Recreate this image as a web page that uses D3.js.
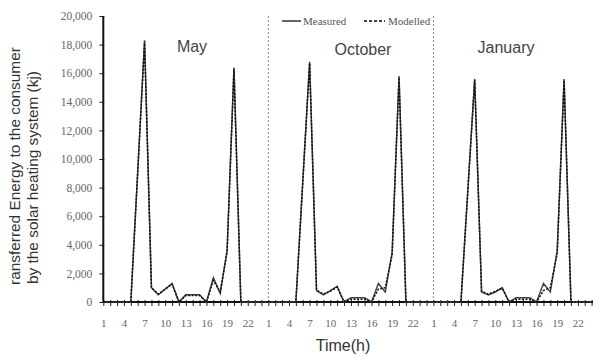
<!DOCTYPE html>
<html>
<head>
	<title>Transferred Energy</title>
	<script src="https://d3js.org/d3.v7.min.js"></script>
	<style>
		body { margin: 0; background: #fff; }
		.tick text { font-family: "Liberation Serif", serif; fill: #666; }
	</style>
</head>
<body>
	<div id="chart"></div>

	<script type="text/javascript">
		// hours of each day, labels every 3rd hour
		var hours = d3.range(1, 25);
		var months = ["May", "October", "January"];

		// measured energy (kj), hours 1..24
		var mayMeasured = [0,0,0,0,0,9100,18300,1000,500,900,1300,0,500,500,500,0,1700,600,3600,16400,0,0,0,0];
		var octMeasured = [0,0,0,0,0,8400,16800,800,500,800,1100,0,300,300,300,0,1300,700,3500,15800,0,0,0,0];
		var janMeasured = [0,0,0,0,0,7800,15600,700,500,700,1000,0,300,300,300,0,1300,700,3600,15600,0,0,0,0];

		// modelled energy (kj)
		var mayModelled = [0,0,0,0,0,9000,18200,1000,550,900,1250,0,450,450,450,0,1500,700,3500,16300,0,0,0,0];
		var octModelled = [0,0,0,0,0,8300,16700,850,550,750,1050,0,200,200,200,0,900,1000,3300,15700,0,0,0,0];
		var janModelled = [0,0,0,0,0,7700,15500,750,550,750,950,0,200,200,200,0,800,1000,3400,15500,0,0,0,0];

		var yTicks = d3.range(0, 20001, 2000);

		var measured = mayMeasured.concat(octMeasured, janMeasured);
		var modelled = mayModelled.concat(octModelled, janModelled);
		var hourLabels = hours.concat(hours, hours);

		var width = 593, height = 356;

		var svg = d3.select("#chart").append("svg")
			.attr("width", width)
			.attr("height", height)
			.style("font-family", "Arial, 'Liberation Sans', sans-serif");

		var x = d3.scaleLinear().domain([0, 71]).range([103.3, 591.6]);
		var y = d3.scaleLinear().domain([0, 20000]).range([302, 16]);

		// day separators
		[24, 48].forEach(function(i){
			svg.append("line")
				.attr("x1", x(i)).attr("x2", x(i))
				.attr("y1", y(20000)).attr("y2", y(0))
				.attr("stroke", "#888")
				.attr("stroke-width", 1)
				.attr("stroke-dasharray", "2,2");
		});

		// x axis
		var xAxis = svg.append("g")
			.attr("transform", "translate(0," + y(0) + ")")
			.call(d3.axisBottom(x)
				.tickValues(d3.range(0, 73))
				.tickSize(4)
				.tickPadding(13)
				.tickFormat(function(i){ return (i % 3 == 0 && i < 72) ? hourLabels[i] : ""; }));
		xAxis.select(".domain").remove();
		xAxis.selectAll(".tick line").attr("y1", -2).attr("y2", 4).attr("stroke", "#222");
		xAxis.selectAll(".tick text").style("font-size", "11px");
		svg.append("line")
			.attr("x1", x(0)).attr("x2", width)
			.attr("y1", y(0)).attr("y2", y(0))
			.attr("stroke", "#111").attr("stroke-width", 2);

		// y axis
		var yAxis = svg.append("g")
			.attr("transform", "translate(" + x(0) + ",0)")
			.call(d3.axisLeft(y)
				.tickValues(yTicks)
				.tickSize(4)
				.tickPadding(7)
				.tickFormat(d3.format(",")));
		yAxis.select(".domain").remove();
		yAxis.selectAll(".tick line").attr("x1", -4).attr("x2", 1).attr("stroke", "#222");
		yAxis.selectAll(".tick text").style("font-size", "11.5px");
		svg.append("line")
			.attr("x1", x(0)).attr("x2", x(0))
			.attr("y1", y(20000)).attr("y2", y(0))
			.attr("stroke", "#111").attr("stroke-width", 2);

		// lines
		var line = d3.line()
			.x(function(d, i){ return x(i); })
			.y(function(d){ return y(d); });

		svg.append("path")
			.datum(measured)
			.attr("d", line)
			.attr("fill", "none")
			.attr("stroke", "#444")
			.attr("stroke-width", 1.5);

		svg.append("path")
			.datum(modelled)
			.attr("d", line)
			.attr("fill", "none")
			.attr("stroke", "#111")
			.attr("stroke-width", 1.5)
			.attr("stroke-dasharray", "2,1.5");

		// month labels
		var monthX = [192, 363, 506];
		var monthY = [52, 55, 53];
		months.forEach(function(m, i){
			svg.append("text")
				.attr("x", monthX[i])
				.attr("y", monthY[i])
				.attr("text-anchor", "middle")
				.style("font-size", "16px")
				.style("fill", "#444")
				.text(m);
		});

		// legend
		var legend = svg.append("g").style("font-family", "'Liberation Serif', serif").style("font-size", "11px");
		legend.append("line").attr("x1", 282).attr("x2", 301).attr("y1", 21).attr("y2", 21)
			.attr("stroke", "#666").attr("stroke-width", 2);
		legend.append("text").attr("x", 303).attr("y", 25).style("fill", "#555").text("Measured");
		legend.append("line").attr("x1", 364).attr("x2", 385).attr("y1", 21).attr("y2", 21)
			.attr("stroke", "#444").attr("stroke-width", 2).attr("stroke-dasharray", "3,2");
		legend.append("text").attr("x", 388).attr("y", 25).style("fill", "#555").text("Modelled");

		// axis titles
		var yTitle = svg.append("text")
			.attr("transform", "rotate(-90)")
			.attr("text-anchor", "start")
			.style("font-size", "15.4px")
			.style("fill", "#333");
		yTitle.append("tspan").attr("x", -285).attr("y", 20).text("ransferred Energy to the consumer");
		yTitle.append("tspan").attr("x", -284).attr("y", 38).text("by the solar heating system (kj)");

		svg.append("text")
			.attr("x", 343)
			.attr("y", 351)
			.attr("text-anchor", "middle")
			.style("font-size", "16px")
			.style("fill", "#333")
			.text("Time(h)");
	</script>
</body>
</html>
